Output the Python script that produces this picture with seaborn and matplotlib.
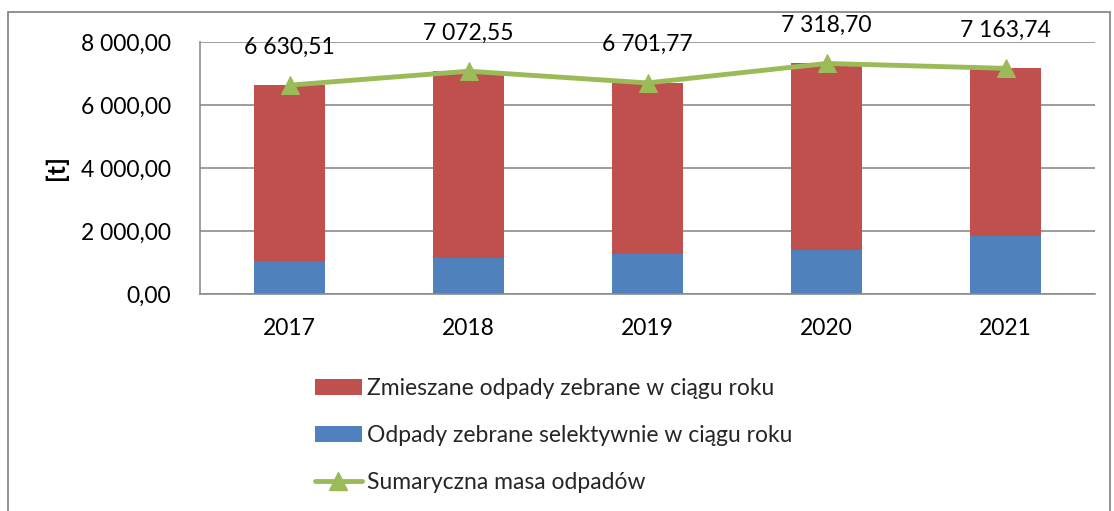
import matplotlib

matplotlib.use("Agg")
import matplotlib.pyplot as plt
from matplotlib.patches import Rectangle
from matplotlib.lines import Line2D
from matplotlib.ticker import FuncFormatter
import numpy as np
import pandas as pd
import seaborn as sns

years = ["2017", "2018", "2019", "2020", "2021"]
total = [6630.51, 7072.55, 6701.77, 7318.70, 7163.74]
selective = [1043, 1128, 1266, 1404, 1830]
mixed = [t - s for t, s in zip(total, selective)]

label_mixed = "Zmieszane odpady zebrane w ciągu roku"
label_selective = "Odpady zebrane selektywnie w ciągu roku"
label_total = "Sumaryczna masa odpadów"

RED = "#C0504D"
BLUE = "#4F81BD"
GREEN = "#9BBB59"
GRID = "#8C8C8C"
FS = 16.5

sns.set_theme(style="white")
plt.rcParams["font.family"] = ["Lato", "DejaVu Sans"]
plt.rcParams["font.size"] = FS


def pl_num(v, pos=None):
    s = f"{v:,.2f}"
    return s.replace(",", " ").replace(".", ",")


frame = pd.DataFrame({"year": years, "total": total, "selective": selective, "mixed": mixed})

fig = plt.figure(figsize=(11.14, 5.11), dpi=100)
ax = fig.add_axes([200 / 1114, 1 - 294 / 511, (1095 - 200) / 1114, (294 - 42) / 511])

sns.barplot(data=frame, x="year", y="selective", color=BLUE, width=0.4, saturation=1,
            ax=ax, edgecolor="none", linewidth=0, zorder=2)
sns.barplot(data=frame, x="year", y="mixed", color=RED, width=0.4, saturation=1,
            ax=ax, bottom=frame["selective"].to_numpy(), edgecolor="none", linewidth=0, zorder=2)

pos = np.arange(len(years))
sns.lineplot(x=pos, y=frame["total"].to_numpy(), color=GREEN, linewidth=3.5, marker="^",
             markersize=13, markeredgecolor=GREEN, ax=ax, zorder=3)

for x, t in zip(pos, total):
    ax.annotate(pl_num(t), (x, t), xytext=(0, 27.5), textcoords="offset points",
                ha="center", va="center", fontsize=FS, color="#000000", zorder=4)

ax.set_ylim(0, 8000)
ax.set_xlim(-0.5, 4.5)
ax.set_yticks(np.arange(0, 8001, 2000))
ax.yaxis.set_major_formatter(FuncFormatter(pl_num))
ax.yaxis.grid(True, color=GRID, linewidth=1.2, zorder=0)
ax.set_axisbelow(True)

ax.set_xticks(pos)
ax.set_xticks(np.arange(-0.5, 5, 1), minor=True)
ax.tick_params(axis="x", which="major", length=0, pad=17, labelsize=FS, colors="#000000")
ax.tick_params(axis="x", which="minor", length=8, width=1.2, color=GRID, direction="out")
ax.tick_params(axis="y", length=8, width=1.2, color=GRID, direction="out", pad=13,
               labelsize=FS, labelcolor="#000000")
ax.tick_params(axis="x", labelcolor="#000000")

for side in ["top", "right"]:
    ax.spines[side].set_visible(False)
for side in ["left", "bottom"]:
    ax.spines[side].set_color(GRID)
    ax.spines[side].set_linewidth(1.2)

ax.set_xlabel("")
ax.set_ylabel("[t]", fontsize=FS + 1.5, fontweight="bold", color="#000000", labelpad=9)

handles = [
    Rectangle((0, 0), 1, 1, facecolor=RED, edgecolor="none"),
    Rectangle((0, 0), 1, 1, facecolor=BLUE, edgecolor="none"),
    Line2D([0], [0], color=GREEN, linewidth=3.5, marker="^", markersize=13),
]
fig.legend(handles, [label_mixed, label_selective, label_total], loc="upper left",
           bbox_to_anchor=(294 / 1114, 1 - 357 / 511), frameon=False, fontsize=FS,
           handlelength=2.05, handleheight=0.7, handletextpad=0.25, labelspacing=1.15)

fig.add_artist(Rectangle((8 / 1114, -0.05), (1110 - 8) / 1114, 1.05 - 12 / 511,
                         transform=fig.transFigure, fill=False, edgecolor="#7F7F7F",
                         linewidth=1.2))

fig.savefig("out.png", dpi=100, facecolor="white")
